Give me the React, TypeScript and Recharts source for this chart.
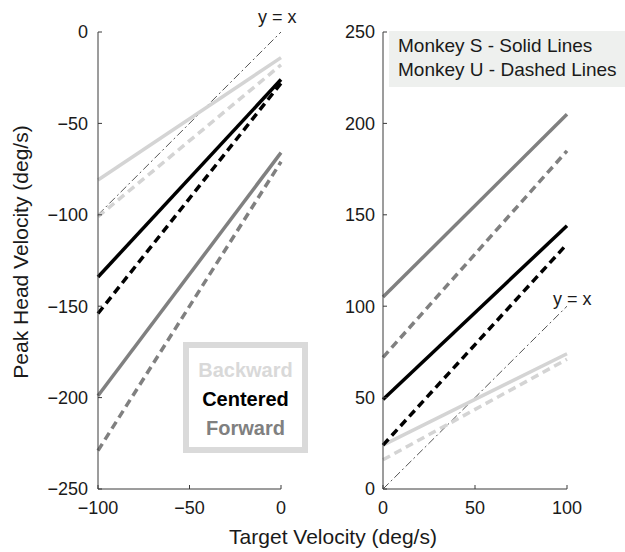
import React from 'react';
import { Line, LineChart, XAxis, YAxis } from 'recharts';

// target velocities at the ends of each fit line
const xLeft = [-100, 0];
const xRight = [0, 100];

// left panel (negative velocities)
const backwardS_L = [-81, -14];
const backwardU_L = [-101, -18];
const centeredS_L = [-134, -26];
const centeredU_L = [-154, -28];
const forwardS_L = [-199, -66];
const forwardU_L = [-229, -71];

// right panel (positive velocities)
const backwardS_R = [24, 74];
const backwardU_R = [16, 71];
const centeredS_R = [49, 144];
const centeredU_R = [24, 134];
const forwardS_R = [105, 205];
const forwardU_R = [72, 185];

const xTicksLeft = [-100, -50, 0];
const yTicksLeft = [-250, -200, -150, -100, -50, 0];
const xTicksRight = [0, 50, 100];
const yTicksRight = [0, 50, 100, 150, 200, 250];

const BACK = '#d4d4d4';
const CENT = '#000000';
const FWD = '#808080';
const AXIS = '#3a3a3a';
const FONT = '"Liberation Sans", Arial, sans-serif';

const build = (xs: number[], bs: number[], bu: number[], cs: number[], cu: number[], fs: number[], fu: number[]) =>
	xs.map((x, i) => ({
		x,
		unity: x,
		bs: bs[i],
		bu: bu[i],
		cs: cs[i],
		cu: cu[i],
		fs: fs[i],
		fu: fu[i],
	}));

const leftData = build(xLeft, backwardS_L, backwardU_L, centeredS_L, centeredU_L, forwardS_L, forwardU_L);
const rightData = build(xRight, backwardS_R, backwardU_R, centeredS_R, centeredU_R, forwardS_R, forwardU_R);

const fmt = (v: number) => String(v).replace('-', '\u2212');

const tickStyle = { fontSize: 18, fill: '#1a1a1a', fontFamily: FONT };

const seriesLines = () => [
	<Line key="unity" dataKey="unity" stroke="#555555" strokeWidth={1} strokeDasharray="8 3 2 3" dot={false} isAnimationActive={false} />,
	<Line key="bs" dataKey="bs" stroke={BACK} strokeWidth={3.5} dot={false} isAnimationActive={false} />,
	<Line key="bu" dataKey="bu" stroke={BACK} strokeWidth={3.5} strokeDasharray="8 5" dot={false} isAnimationActive={false} />,
	<Line key="fs" dataKey="fs" stroke={FWD} strokeWidth={3.5} dot={false} isAnimationActive={false} />,
	<Line key="fu" dataKey="fu" stroke={FWD} strokeWidth={3.5} strokeDasharray="8 5" dot={false} isAnimationActive={false} />,
	<Line key="cs" dataKey="cs" stroke={CENT} strokeWidth={3.5} dot={false} isAnimationActive={false} />,
	<Line key="cu" dataKey="cu" stroke={CENT} strokeWidth={3.5} strokeDasharray="8 5" dot={false} isAnimationActive={false} />,
];

const App = () => {
	return (
		<div style={{ position: 'absolute', left: 0, top: 0, width: 625, height: 552, background: '#fff', fontFamily: FONT }}>
			<div style={{ position: 'absolute', left: 0, top: 0 }}>
				<LineChart width={300} height={552} data={leftData} margin={{ top: 32, right: 19, bottom: 33, left: 38 }}>
					<XAxis
						dataKey="x"
						type="number"
						domain={[-100, 0]}
						ticks={xTicksLeft}
						tickFormatter={fmt}
						height={30}
						tickSize={-4}
						tickMargin={16}
						stroke={AXIS}
						tick={tickStyle}
					/>
					<YAxis
						type="number"
						domain={[-250, 0]}
						ticks={yTicksLeft}
						tickFormatter={fmt}
						width={60}
						tickSize={-4}
						tickMargin={14}
						stroke={AXIS}
						tick={tickStyle}
					/>
					{seriesLines()}
				</LineChart>
			</div>
			<div style={{ position: 'absolute', left: 300, top: 0 }}>
				<LineChart width={325} height={552} data={rightData} margin={{ top: 32, right: 58, bottom: 33, left: 23 }}>
					<XAxis
						dataKey="x"
						type="number"
						domain={[0, 100]}
						ticks={xTicksRight}
						height={30}
						tickSize={-4}
						tickMargin={16}
						stroke={AXIS}
						tick={tickStyle}
					/>
					<YAxis
						type="number"
						domain={[0, 250]}
						ticks={yTicksRight}
						width={60}
						tickSize={-4}
						tickMargin={12}
						stroke={AXIS}
						tick={tickStyle}
					/>
					{seriesLines()}
				</LineChart>
			</div>

			{/* y = x labels */}
			<div style={{ position: 'absolute', left: 258, top: 6, fontSize: 18, color: '#1a1a1a', lineHeight: '22px' }}>y = x</div>
			<div style={{ position: 'absolute', left: 553, top: 288, fontSize: 18, color: '#1a1a1a', lineHeight: '22px' }}>y = x</div>

			{/* direction legend */}
			<div
				style={{
					position: 'absolute',
					left: 183,
					top: 342,
					width: 113,
					height: 99,
					border: '6px solid #dadada',
					background: '#fff',
					textAlign: 'center',
					fontWeight: 'bold',
					fontSize: 20,
					lineHeight: '29px',
				}}
			>
				<div style={{ color: '#d9d9d9', marginTop: 8 }}>Backward</div>
				<div style={{ color: CENT }}>Centered</div>
				<div style={{ color: FWD }}>Forward</div>
			</div>

			{/* monkey legend */}
			<div
				style={{
					position: 'absolute',
					left: 389,
					top: 31,
					width: 236,
					height: 56,
					background: '#eef0ee',
					fontSize: 19,
					color: '#1a1a1a',
					lineHeight: '24px',
					boxSizing: 'border-box',
					paddingLeft: 9,
					paddingTop: 3,
					whiteSpace: 'nowrap',
				}}
			>
				<div>Monkey S - Solid Lines</div>
				<div>Monkey U - Dashed Lines</div>
			</div>

			{/* axis titles */}
			<div style={{ position: 'absolute', left: 333, top: 525, transform: 'translateX(-50%)', fontSize: 21, color: '#1a1a1a', whiteSpace: 'nowrap', lineHeight: '24px' }}>
				Target Velocity (deg/s)
			</div>
			<div
				style={{
					position: 'absolute',
					left: 21,
					top: 252,
					transform: 'translate(-50%, -50%) rotate(-90deg)',
					fontSize: 21,
					color: '#1a1a1a',
					whiteSpace: 'nowrap',
					lineHeight: '24px',
				}}
			>
				Peak Head Velocity (deg/s)
			</div>
		</div>
	);
};

export default App;
